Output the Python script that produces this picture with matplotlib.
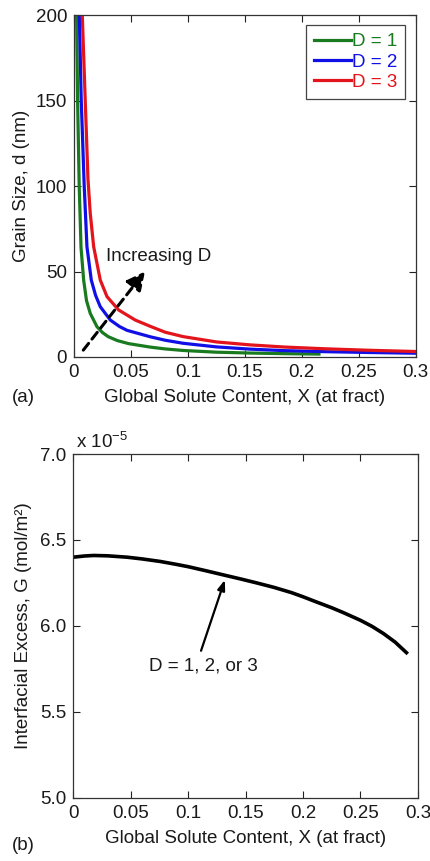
import matplotlib
matplotlib.use("Agg")
import matplotlib.pyplot as plt

plt.rcParams['font.family'] = ['Liberation Sans', 'DejaVu Sans']
plt.rcParams['mathtext.fontset'] = 'custom'
plt.rcParams['mathtext.rm'] = 'Liberation Sans'
plt.rcParams['mathtext.it'] = 'Liberation Sans:italic'

# ---- Panel (a) data: grain size (nm) vs global solute content ----
x_d1 = [0.0023, 0.0032, 0.0046, 0.0062, 0.0085, 0.011, 0.0143, 0.0202, 0.025, 0.030,
        0.038, 0.048, 0.0667, 0.08, 0.0959, 0.125, 0.154, 0.189, 0.215]
d_d1 = [200, 150, 100, 64, 45, 33, 25.5, 17.7, 14.3, 11.9,
        9.6, 7.8, 5.8, 4.7, 3.8, 2.8, 2.3, 1.9, 1.7]

x_d2 = [0.0047, 0.0064, 0.0090, 0.0114, 0.0152, 0.019, 0.0231, 0.0319, 0.040, 0.0465,
        0.067, 0.08, 0.0959, 0.125, 0.154, 0.185, 0.22, 0.26, 0.3]
d_d2 = [200, 150, 100, 64.5, 45, 36, 29.4, 21.6, 17.8, 15.6,
        11.8, 9.8, 8.0, 5.9, 4.6, 3.7, 3.1, 2.6, 2.2]

x_d3 = [0.0073, 0.0099, 0.0123, 0.0143, 0.0173, 0.0231, 0.029, 0.0392, 0.0538, 0.0667,
        0.08, 0.0959, 0.125, 0.154, 0.185, 0.22, 0.26, 0.3]
d_d3 = [200, 150, 104, 84, 64.5, 45, 35.3, 27.5, 21.6, 18.0,
        14.5, 11.9, 8.8, 7.1, 5.8, 4.8, 3.9, 3.2]

series_labels = ['D = 1', 'D = 2', 'D = 3']
series_colors = ['#1a7a1f', '#1010e6', '#e3141c']

# ---- Panel (b) data: interfacial excess (x 1e-5 mol/m^2) vs global solute content ----
x_g = [0, 0.01, 0.018, 0.03, 0.047, 0.06, 0.076, 0.09, 0.10, 0.115, 0.132, 0.146,
       0.16, 0.175, 0.19, 0.2, 0.21, 0.225, 0.235, 0.25, 0.26, 0.27, 0.28, 0.29]
g_val = [6.40, 6.407, 6.41, 6.408, 6.40, 6.39, 6.375, 6.358, 6.345, 6.322, 6.295, 6.273,
         6.25, 6.224, 6.194, 6.17, 6.144, 6.106, 6.078, 6.033, 5.998, 5.956, 5.907, 5.845]

xticks = [0, 0.05, 0.1, 0.15, 0.2, 0.25, 0.3]
xticklabels = ['0', '0.05', '0.1', '0.15', '0.2', '0.25', '0.3']
yticks_a = [0, 50, 100, 150, 200]
yticks_b = [5.0, 5.5, 6.0, 6.5, 7.0]
yticklabels_b = ['5.0', '5.5', '6.0', '6.5', '7.0']

fig = plt.figure(figsize=(4.3, 8.61), dpi=100)
fs = 13.5
tc = '#1a1a1a'

def style(ax):
    ax.tick_params(direction='in', top=True, right=True, length=5, width=0.8,
                   labelsize=fs, colors='#222222', labelcolor=tc, pad=5)
    for s in ax.spines.values():
        s.set_linewidth(0.9)
        s.set_color('#333333')

# Panel (a)
ax1 = fig.add_axes([0.172, 0.5854, 0.795, 0.397])
for xs, ys, lab, col in zip([x_d1, x_d2, x_d3], [d_d1, d_d2, d_d3], series_labels, series_colors):
    ax1.plot(xs, ys, color=col, lw=2.3, label=lab, solid_joinstyle='round')
ax1.set_xlim(0, 0.3)
ax1.set_ylim(0, 200)
ax1.set_xticks(xticks)
ax1.set_xticklabels(xticklabels)
ax1.set_yticks(yticks_a)
style(ax1)
ax1.set_xlabel('Global Solute Content, X (at fract)', fontsize=fs, labelpad=6, color=tc)
ax1.set_ylabel('Grain Size, d (nm)', fontsize=fs, labelpad=4, color=tc)
leg = ax1.legend(loc='upper right', fontsize=fs, handlelength=2.0, handletextpad=0.05,
                 borderpad=0.42, labelspacing=0.16, fancybox=False, framealpha=1,
                 edgecolor='#444444', borderaxespad=0.55)
leg.get_frame().set_linewidth(0.9)
for t, col in zip(leg.get_texts(), series_colors):
    t.set_color(col)
ax1.annotate('', xy=(0.0623, 50), xytext=(0.0082, 4),
             arrowprops=dict(arrowstyle='-|>,head_length=1.1,head_width=0.55',
                             color='black', lw=2.2, linestyle=(0, (2.8, 1.8)),
                             shrinkA=0, shrinkB=0))
ax1.text(0.028, 58.5, 'Increasing D', fontsize=fs, va='center', ha='left', color=tc)
fig.text(12 / 430, 1 - 397 / 861, '(a)', fontsize=fs, va='center', ha='left', color=tc)

# Panel (b)
ax2 = fig.add_axes([0.170, 0.0732, 0.802, 0.3995])
ax2.plot(x_g, g_val, color='black', lw=2.6, solid_joinstyle='round')
ax2.set_xlim(0, 0.3)
ax2.set_ylim(5.0, 7.0)
ax2.set_xticks(xticks)
ax2.set_xticklabels(xticklabels)
ax2.set_yticks(yticks_b)
ax2.set_yticklabels(yticklabels_b)
style(ax2)
ax2.set_xlabel('Global Solute Content, X (at fract)', fontsize=fs, labelpad=6, color=tc)
ax2.set_ylabel('Interfacial Excess, G (mol/m²)', fontsize=fs, labelpad=6, color=tc)
ax2.text(0.008, 1.005, r'x 10$^{-5}$', transform=ax2.transAxes, fontsize=fs,
         va='bottom', ha='left', color=tc)
ax2.annotate('', xy=(0.132, 6.268), xytext=(0.1113, 5.856),
             arrowprops=dict(arrowstyle='-|>,head_length=0.6,head_width=0.22',
                             color='black', lw=1.6, shrinkA=0, shrinkB=0))
ax2.text(0.113, 5.77, 'D = 1, 2, or 3', fontsize=fs, ha='center', va='center', color=tc)
fig.text(12 / 430, 1 - 845 / 861, '(b)', fontsize=fs, va='center', ha='left', color=tc)

fig.savefig('out.png', dpi=100)
